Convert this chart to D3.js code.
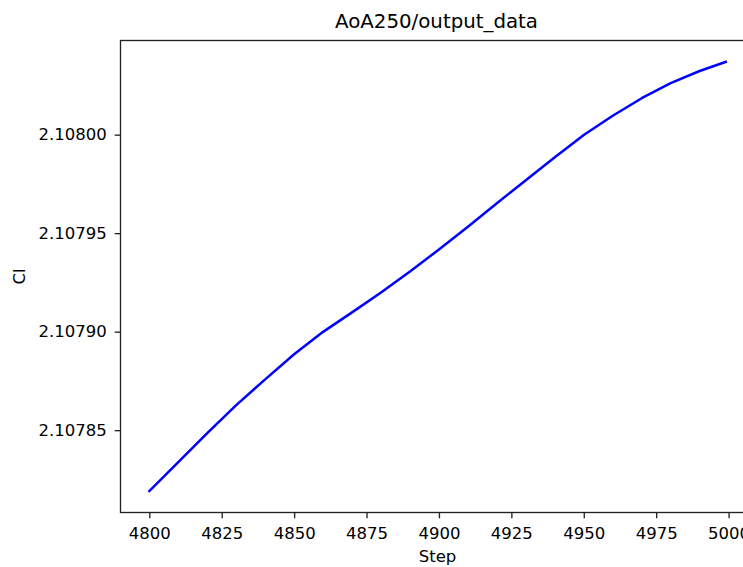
<!DOCTYPE html>
<html>
<head>
<meta charset="utf-8">
<script src="https://cdn.jsdelivr.net/npm/d3@7"></script>
<style>
  body { margin: 0; background: #fff; }
  text { font-family: "DejaVu Sans", sans-serif; fill: #000; }
</style>
</head>
<body>
<div id="chart"></div>
<script>
// values
var steps = [4800, 4810, 4820, 4830, 4840, 4850, 4860, 4870, 4880, 4890, 4900,
             4910, 4920, 4930, 4940, 4950, 4960, 4970, 4980, 4990, 4999];
var outputValues = [2.1078191, 2.1078338, 2.1078485, 2.1078627, 2.1078758, 2.1078885,
                    2.1078999, 2.1079098, 2.1079199, 2.1079305, 2.1079417, 2.1079533,
                    2.1079652, 2.1079769, 2.1079885, 2.1079998, 2.1080096, 2.1080185,
                    2.1080262, 2.1080323, 2.1080369];
var xTicks = [4800, 4825, 4850, 4875, 4900, 4925, 4950, 4975, 5000];
var yTicks = [2.10785, 2.10790, 2.10795, 2.10800];

var width = 743, height = 567;
// axes box (right edge runs past the window, like the reference)
var axLeft = 120.5, axRight = 754.5, axTop = 40.5, axBottom = 512.5;

var data = steps.map(function(s, i) { return { step: s, value: outputValues[i] }; });

// matplotlib style 5% margins
var xExt = d3.extent(steps), yExt = d3.extent(outputValues);
var xPad = (xExt[1] - xExt[0]) * 0.05, yPad = (yExt[1] - yExt[0]) * 0.05;

var x = d3.scaleLinear().domain([xExt[0] - xPad, xExt[1] + xPad]).range([axLeft, axRight]);
var y = d3.scaleLinear().domain([yExt[0] - yPad, yExt[1] + yPad]).range([axBottom, axTop]);

var svg = d3.select("#chart").append("svg")
    .attr("width", width)
    .attr("height", height);

svg.append("path")
    .datum(data)
    .attr("fill", "none")
    .attr("stroke", "#0000ff")
    .attr("stroke-width", 2.5)
    .attr("stroke-linejoin", "round")
    .attr("stroke-linecap", "square")
    .attr("d", d3.line().x(function(d) { return x(d.step); }).y(function(d) { return y(d.value); }));

// frame
svg.append("rect")
    .attr("x", axLeft).attr("y", axTop)
    .attr("width", axRight - axLeft).attr("height", axBottom - axTop)
    .attr("fill", "none")
    .attr("stroke", "#222")
    .attr("stroke-width", 1.33);

var xAxis = d3.axisBottom(x).tickValues(xTicks).tickSize(5.8).tickPadding(8.5)
    .tickFormat(d3.format("d"));
var gx = svg.append("g").attr("transform", "translate(0," + axBottom + ")").call(xAxis);
gx.select(".domain").remove();

var yAxis = d3.axisLeft(y).tickValues(yTicks).tickSize(5.8).tickPadding(8)
    .tickFormat(d3.format(".5f"));
var gy = svg.append("g").attr("transform", "translate(" + axLeft + ",0)").call(yAxis);
gy.select(".domain").remove();

svg.selectAll(".tick line").attr("stroke", "#222").attr("stroke-width", 1.33);
svg.selectAll(".tick text")
    .style("font-family", "DejaVu Sans")
    .style("font-size", "16.5px")
    .attr("fill", "#000");

svg.append("text")
    .attr("x", (axLeft + axRight) / 2 - 1)
    .attr("y", 28)
    .attr("text-anchor", "middle")
    .style("font-size", "19.8px")
    .text("AoA250/output_data");

svg.append("text")
    .attr("x", (axLeft + axRight) / 2)
    .attr("y", 562)
    .attr("text-anchor", "middle")
    .style("font-size", "16.5px")
    .text("Step");

svg.append("text")
    .attr("transform", "translate(25," + ((axTop + axBottom) / 2) + ") rotate(-90)")
    .attr("text-anchor", "middle")
    .style("font-size", "16.5px")
    .text("Cl");
</script>
</body>
</html>
